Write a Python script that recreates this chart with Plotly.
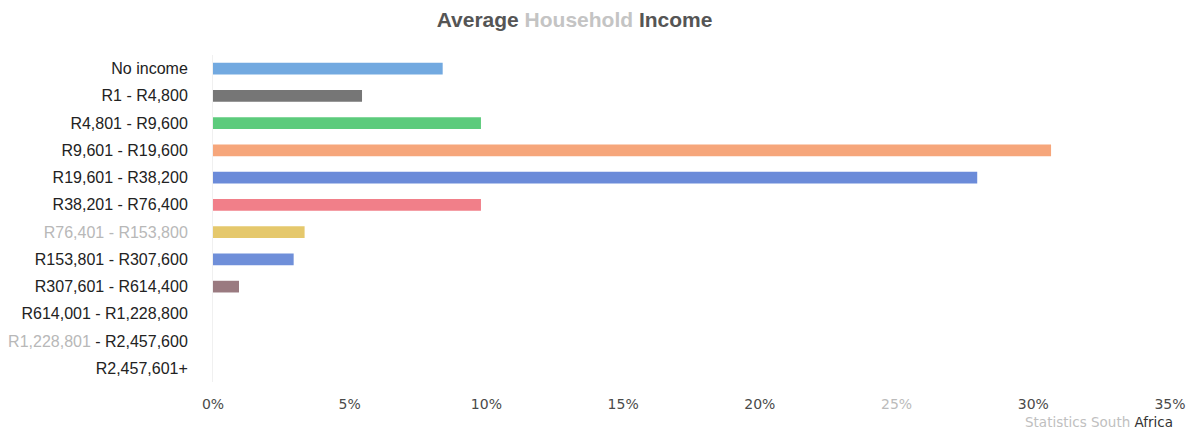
import plotly.graph_objects as go

categories = [
    "No income", "R1 - R4,800", "R4,801 - R9,600", "R9,601 - R19,600",
    "R19,601 - R38,200", "R38,201 - R76,400", "R76,401 - R153,800",
    "R153,801 - R307,600", "R307,601 - R614,400", "R614,001 - R1,228,800",
    "R1,228,801 - R2,457,600", "R2,457,601+",
]
values = [8.4, 5.45, 9.8, 30.65, 27.95, 9.8, 3.35, 2.95, 0.95, 0, 0, 0]
colors = ["#72a9e0", "#767676", "#5ccb7c", "#f6a67b", "#6b8bd9", "#f17f89",
          "#e5c86c", "#6f8fd9", "#9a7a80", "#cccccc", "#cccccc", "#cccccc"]
x_ticks = [0, 5, 10, 15, 20, 25, 30, 35]

# tick labels (some rendered faint, as in the source image)
ticktext = []
for c in categories:
    if c == "R76,401 - R153,800":
        ticktext.append("<span style='color:#b8b8b8'>" + c + "</span>")
    elif c == "R1,228,801 - R2,457,600":
        a, b = c.split(" - ")
        ticktext.append("<span style='color:#b8b8b8'>" + a + "</span> - " + b)
    else:
        ticktext.append(c)

xtext = []
for t in x_ticks:
    s = f"{t}%"
    if t == 25:
        s = "<span style='color:#bbbbbb'>" + s + "</span>"
    xtext.append(s)

fig = go.Figure()
fig.add_trace(go.Bar(
    x=values, y=categories, orientation="h",
    marker=dict(color=colors, line=dict(width=0)),
    hoverinfo="x+y",
))

# page has an 8px body margin, so the figure is sized/offset accordingly
fig.update_layout(
    width=1186, height=421,
    margin=dict(l=205, r=24, t=47, b=47),
    paper_bgcolor="white", plot_bgcolor="white",
    showlegend=False,
    bargap=0.57,
    title=dict(
        text="<b>Average <span style='color:#c4c4c4'>Household</span> Income</b>",
        x=0.4777, xanchor="center", y=0.9715, yanchor="middle",
        font=dict(family="Liberation Sans, Arial, sans-serif", size=21, color="#555555"),
    ),
    xaxis=dict(
        range=[0, 35], tickvals=x_ticks, ticktext=xtext,
        showgrid=False, zeroline=False, showline=False, automargin=False,
        ticks="outside", ticklen=9, tickcolor="rgba(0,0,0,0)",
        tickfont=dict(family="DejaVu Sans, Verdana, sans-serif", size=14, color="#4a4a4a"),
        fixedrange=True,
    ),
    yaxis=dict(
        categoryorder="array", categoryarray=categories,
        tickvals=categories, ticktext=ticktext,
        autorange="reversed", automargin=False,
        showgrid=False, zeroline=False,
        showline=True, linecolor="#f0f0f0", linewidth=1,
        ticks="outside", ticklen=21, tickcolor="rgba(0,0,0,0)",
        tickfont=dict(family="Liberation Sans, Arial, sans-serif", size=16,
                      color="#222222"),
        fixedrange=True,
    ),
)

fig.add_annotation(
    text="<span style='color:#c0c0c0'>Statistics South</span> <span style='color:#333333'>Africa</span>",
    xref="paper", yref="paper", x=1.0052, y=-0.1223, xanchor="right", yanchor="middle",
    showarrow=False,
    font=dict(family="DejaVu Sans, Verdana, sans-serif", size=13.5),
)

fig.write_html("out.html")
